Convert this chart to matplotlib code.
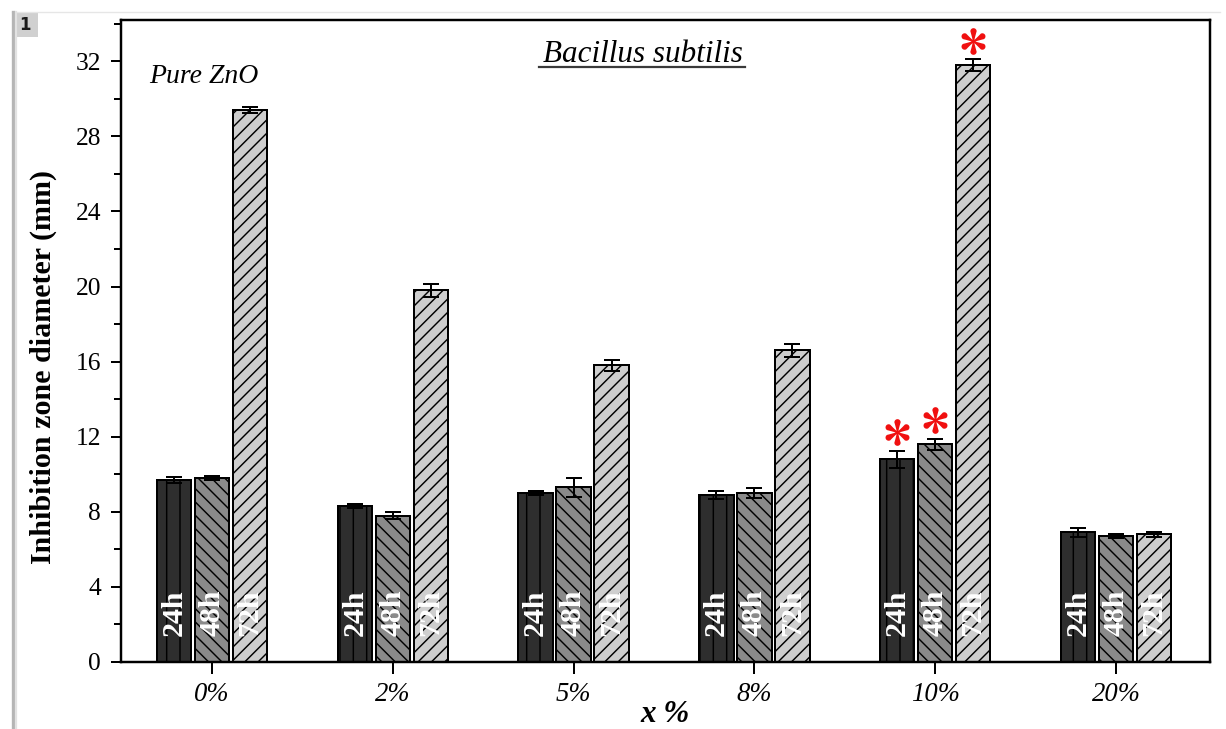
import numpy as np
import matplotlib
matplotlib.use("Agg")
import matplotlib.pyplot as plt
import matplotlib.transforms as mtransforms
from matplotlib.lines import Line2D
from matplotlib.patches import Rectangle
from matplotlib.path import Path

# ---- data -------------------------------------------------------------
categories = ['0%', '2%', '5%', '8%', '10%', '20%']
times = ['24h', '48h', '72h']

zone_24h = [9.7, 8.3, 9.0, 8.9, 10.8, 6.9]
err_24h = [0.15, 0.10, 0.10, 0.20, 0.45, 0.25]
zone_48h = [9.8, 7.8, 9.3, 9.0, 11.6, 6.7]
err_48h = [0.12, 0.20, 0.50, 0.25, 0.30, 0.10]
zone_72h = [29.4, 19.8, 15.8, 16.6, 31.8, 6.8]
err_72h = [0.15, 0.35, 0.30, 0.35, 0.30, 0.15]

# (category index, series index) of significantly improved results
significant = [(4, 0), (4, 1), (4, 2)]

# ---- style ------------------------------------------------------------
DPI = 80
W, H = 1226, 729
plt.rcParams['font.family'] = ['Liberation Serif', 'DejaVu Serif']
plt.rcParams['hatch.linewidth'] = 1.3

fig = plt.figure(figsize=(W / DPI, H / DPI), dpi=DPI)
fig.patch.set_facecolor('white')

# page frame with shadowed left edge and figure number tag
fig.add_artist(Line2D([12 / W, 1220 / W], [1 - 12 / H, 1 - 12 / H],
                      color='#e6e6e6', lw=1.2, transform=fig.transFigure))
fig.add_artist(Line2D([13 / W, 13 / W], [0, 1 - 12 / H],
                      color='#b5b5b5', lw=3.0, transform=fig.transFigure))
fig.add_artist(Line2D([16 / W, 16 / W], [0, 1 - 12 / H],
                      color='#e2e2e2', lw=2.0, transform=fig.transFigure))
fig.add_artist(Rectangle((13 / W, 1 - 37 / H), 25 / W, 24 / H,
                         facecolor='#d0d0d0', edgecolor='none',
                         transform=fig.transFigure))
fig.text(25 / W, 1 - 25 / H, '1', family='DejaVu Sans', weight='bold',
         fontsize=15, va='center', ha='center', color='#1a1a1a')

ax = fig.add_axes([121 / W, 1 - 662 / H, (1210 - 121) / W, (662 - 20) / H])

x = np.arange(len(categories))
pitch = 0.21
width = 0.19
series = [
    (zone_24h, err_24h, '#2e2e2e', '|'),
    (zone_48h, err_48h, '#8a8a8a', '\\\\'),
    (zone_72h, err_72h, '#cecece', '//'),
]

for k, (vals, errs, color, hatch) in enumerate(series):
    pos = x + (k - 1) * pitch
    ax.bar(pos, vals, width, color=color, edgecolor='black', linewidth=1.8,
           hatch=hatch, zorder=2)
    ax.errorbar(pos, vals, yerr=errs, fmt='none', ecolor='black',
                elinewidth=1.8, capsize=7, capthick=1.8, zorder=3)
    for p in pos:
        ax.text(p, 2.65, times[k], rotation=90, ha='center', va='center',
                color='white', fontsize=27, fontweight='bold', zorder=4)


def petal_star(n_petals=6, inner=0.0, tip=0.78, half_w=0.24):
    """Asterisk made of teardrop petals pointing outward from the centre."""
    r = np.linspace(inner, tip, 30)
    upper = 0.05 + (half_w - 0.05) * ((r - inner) / (tip - inner)) ** 1.2
    cap_t = np.linspace(np.pi / 2, -np.pi / 2, 25)
    cap_x = tip + half_w * np.cos(cap_t)
    cap_y = half_w * np.sin(cap_t)
    px = np.concatenate([r, cap_x, r[::-1]])
    py = np.concatenate([upper, cap_y, -upper[::-1]])
    petal = np.column_stack([px, py])
    verts, codes = [], []
    for i in range(n_petals):
        a = np.pi / 2 + i * 2 * np.pi / n_petals
        rot = np.array([[np.cos(a), -np.sin(a)], [np.sin(a), np.cos(a)]])
        pts = petal @ rot.T
        verts.extend(pts)
        verts.append(pts[0])
        codes.extend([Path.MOVETO] + [Path.LINETO] * (len(pts) - 1)
                     + [Path.CLOSEPOLY])
    return Path(np.array(verts), codes)


star = petal_star()

series_vals = [zone_24h, zone_48h, zone_72h]
series_errs = [err_24h, err_48h, err_72h]
star_tr = mtransforms.offset_copy(ax.transData, fig=fig, x=0, y=17,
                                  units='points')
for ci, si in significant:
    top = series_vals[si][ci] + series_errs[si][ci]
    ax.plot([x[ci] + (si - 1) * pitch], [top], linestyle='none', marker=star,
            markersize=24, color='#f01010', markeredgewidth=0,
            transform=star_tr, clip_on=False, zorder=5)

ax.set_xlim(-0.503, 5.52)
ax.set_ylim(0, 34.2)
ax.set_yticks(np.arange(0, 33, 4))
ax.set_yticks(np.arange(2, 35, 4), minor=True)
ax.set_xticks(x)
ax.set_xticklabels(categories, fontstyle='italic')

ax.tick_params(axis='y', which='major', direction='out', length=9, width=1.8,
               labelsize=23, pad=9)
ax.tick_params(axis='y', which='minor', direction='out', length=6, width=1.8)
ax.tick_params(axis='x', which='major', direction='out', length=11, width=1.8,
               labelsize=24, pad=7)
for s in ax.spines.values():
    s.set_linewidth(2.2)

ax.set_ylabel('Inhibition zone diameter (mm)', fontsize=27, fontweight='bold')
ax.yaxis.set_label_coords(-0.059, 0.46)
fig.text(665 / W, 1 - 714 / H, 'x %', ha='center', va='center', fontsize=28,
         fontweight='bold', fontstyle='italic')

# title with underline
ax.text(0.479, 0.947, 'Bacillus subtilis', transform=ax.transAxes,
        ha='center', va='center', fontsize=28, fontstyle='italic')
ax.add_line(Line2D([(539 - 121) / 1089, (745 - 121) / 1089],
                   [(662 - 67) / 642, (662 - 67) / 642],
                   transform=ax.transAxes, color='#3a3a3a', lw=2.0))
ax.text(0.026, 0.912, 'Pure ZnO', transform=ax.transAxes, ha='left',
        va='center', fontsize=25, fontstyle='italic')

fig.savefig('out.png', dpi=DPI, facecolor='white')
